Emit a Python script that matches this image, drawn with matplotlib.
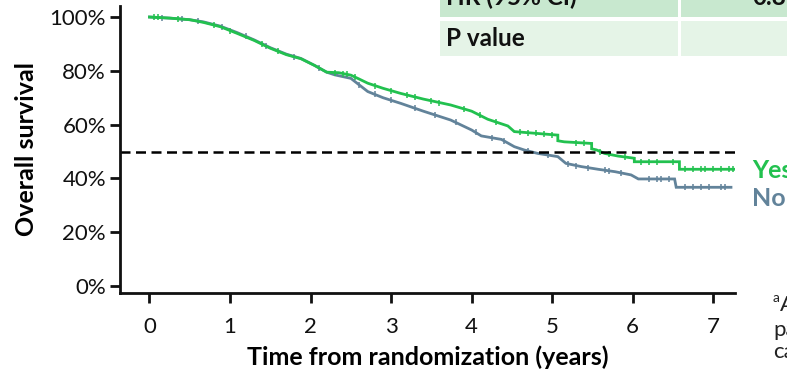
import numpy as np
import matplotlib
matplotlib.use("Agg")
import matplotlib.pyplot as plt
from matplotlib.patches import Rectangle

plt.rcParams["font.family"] = ["Lato", "DejaVu Sans"]

# Kaplan-Meier step points (years, % surviving)
yes_t = [0, 0.25, 0.5, 0.67, 0.88, 1.09, 1.3, 1.5, 1.7, 1.88, 2.05, 2.2, 2.35, 2.5, 2.6, 2.71,
         2.9, 3.12, 3.4, 3.74, 4.0, 4.12, 4.2, 4.45, 4.53, 5.07, 5.07, 5.15, 5.49, 5.49, 5.55,
         5.65, 5.82, 6.02, 6.02, 6.58, 6.58, 7.27]
yes_s = [100, 99.6, 99.0, 98.0, 96.4, 93.9, 91.3, 88.4, 86.0, 84.5, 82.0, 79.5, 79.3, 78.4, 77.0, 75.4,
         73.5, 71.6, 69.5, 67.3, 65.0, 63.2, 62.0, 59.5, 57.4, 56.1, 54.0, 53.6, 53.0, 51.0, 50.6,
         49.3, 48.3, 47.5, 46.2, 46.2, 43.4, 43.4]

no_t = [0, 0.25, 0.5, 0.67, 0.88, 1.09, 1.3, 1.5, 1.7, 1.88, 2.05, 2.2, 2.3, 2.5, 2.71, 2.9,
        3.12, 3.4, 3.74, 4.0, 4.12, 4.37, 4.53, 4.65, 4.82, 5.07, 5.17, 5.36, 5.57, 5.78, 5.98,
        6.07, 6.52, 6.54, 7.22]
no_s = [100, 99.6, 99.0, 98.2, 96.6, 94.2, 91.5, 88.6, 86.2, 84.6, 82.0, 79.5, 78.5, 77.2, 72.3, 70.0,
        67.9, 65.0, 61.7, 58.0, 55.8, 54.5, 51.8, 50.6, 49.3, 48.1, 45.6, 44.4, 43.4, 42.5, 41.3,
        39.8, 39.8, 36.7, 36.7]

# censoring ticks (years)
yes_cens = [0.05, 0.1, 0.35, 0.8, 1.0, 1.4, 1.6, 2.3, 2.4, 2.45, 2.55, 2.8, 3.0, 3.2, 3.3, 3.5, 3.6,
            3.9, 4.1, 4.3, 4.6, 4.7, 4.8, 4.9, 5.0, 5.3, 5.4, 5.6, 5.7, 5.9, 6.1, 6.2, 6.3, 6.5,
            6.65, 6.75, 6.85, 6.9, 7.0, 7.1, 7.2, 7.25]
no_cens = [0.15, 0.4, 0.6, 0.9, 1.2, 1.45, 1.8, 2.1, 2.6, 2.8, 3.0, 3.3, 3.55, 3.8, 4.05, 4.25, 4.4,
           4.7, 4.95, 5.2, 5.3, 5.45, 5.65, 5.7, 5.85, 6.2, 6.3, 6.35, 6.45, 6.65, 6.75, 6.85,
           6.95, 7.1, 7.15]

group_labels = ["Yes", "No"]
table_rows = ["HR (95% CI)", "P value"]
table_vals = ["0.8", ""]
x_ticks = [0, 1, 2, 3, 4, 5, 6, 7]
y_ticks = [0, 20, 40, 60, 80, 100]

GREEN = "#22c14f"
SLATE = "#62839a"
W, H = 787, 372

fig = plt.figure(figsize=(W / 100, H / 100), dpi=100)
ax = fig.add_axes([120 / W, 1 - 293 / H, 615 / W, 287 / H])

for t, s, cens, color in [(no_t, no_s, no_cens, SLATE), (yes_t, yes_s, yes_cens, GREEN)]:
    ax.plot(t, s, color=color, lw=2.0, solid_joinstyle="miter")
    cy = np.interp(cens, t, s)
    ax.plot(cens, cy, ls="none", marker="|", ms=5, mew=1.1, color=color)

ax.axhline(50, color="black", lw=1.8, ls=(0, (4, 2.2)), xmin=0, xmax=1.005, clip_on=False)

ax.set_xlim(-0.366, 7.27)
ax.set_ylim(-2.6, 104.1)
ax.set_xticks(x_ticks)
ax.set_yticks(y_ticks)
ax.set_yticklabels([f"{v}%" for v in y_ticks])
ax.tick_params(axis="both", length=7, width=2, labelsize=16, color="#111111", labelcolor="#111111")
ax.tick_params(axis="x", pad=10)
ax.tick_params(axis="y", pad=3)
for side in ["top", "right"]:
    ax.spines[side].set_visible(False)
for side in ["left", "bottom"]:
    ax.spines[side].set_linewidth(2)
    ax.spines[side].set_color("#111111")

ax.set_xlabel("Time from randomization (years)", fontsize=18, fontweight="bold", labelpad=6)
ax.set_ylabel("Overall survival", fontsize=18, fontweight="bold", labelpad=8)

# results table at the top right (cut off by the figure edge)
row_y = [(-22, 17), (21, 56)]
row_bg = ["#c8e8cf", "#e5f4e7"]
for (y0, y1), bg, label, val in zip(row_y, row_bg, table_rows, table_vals):
    for x0, x1 in [(440, 678), (681, 800)]:
        fig.patches.append(Rectangle((x0 / W, 1 - y1 / H), (x1 - x0) / W, (y1 - y0) / H,
                                     transform=fig.transFigure, facecolor=bg, edgecolor="none"))
    yc = 1 - (y0 + y1) / 2 / H
    fig.text(446 / W, yc, label, fontsize=17.5, fontweight="bold", va="center", ha="left", color="#111111")
    if val:
        fig.text(752 / W, yc, val, fontsize=17.5, fontweight="bold", va="center", ha="left", color="#111111")

fig.text(752 / W, 1 - 170 / H, group_labels[0], fontsize=18, fontweight="bold", color=GREEN, va="center")
fig.text(752 / W, 1 - 198 / H, group_labels[1], fontsize=18, fontweight="bold", color=SLATE, va="center")

# footnote fragments
fig.text(773 / W, 1 - 298 / H, "a", fontsize=10, color="#222222", va="center")
fig.text(780 / W, 1 - 305 / H, "A", fontsize=16, color="#222222", va="center")
fig.text(773 / W, 1 - 330 / H, "pa", fontsize=16, color="#222222", va="center")
fig.text(773 / W, 1 - 352 / H, "ca", fontsize=16, color="#222222", va="center")

fig.savefig("out.png", dpi=100, facecolor="white")
